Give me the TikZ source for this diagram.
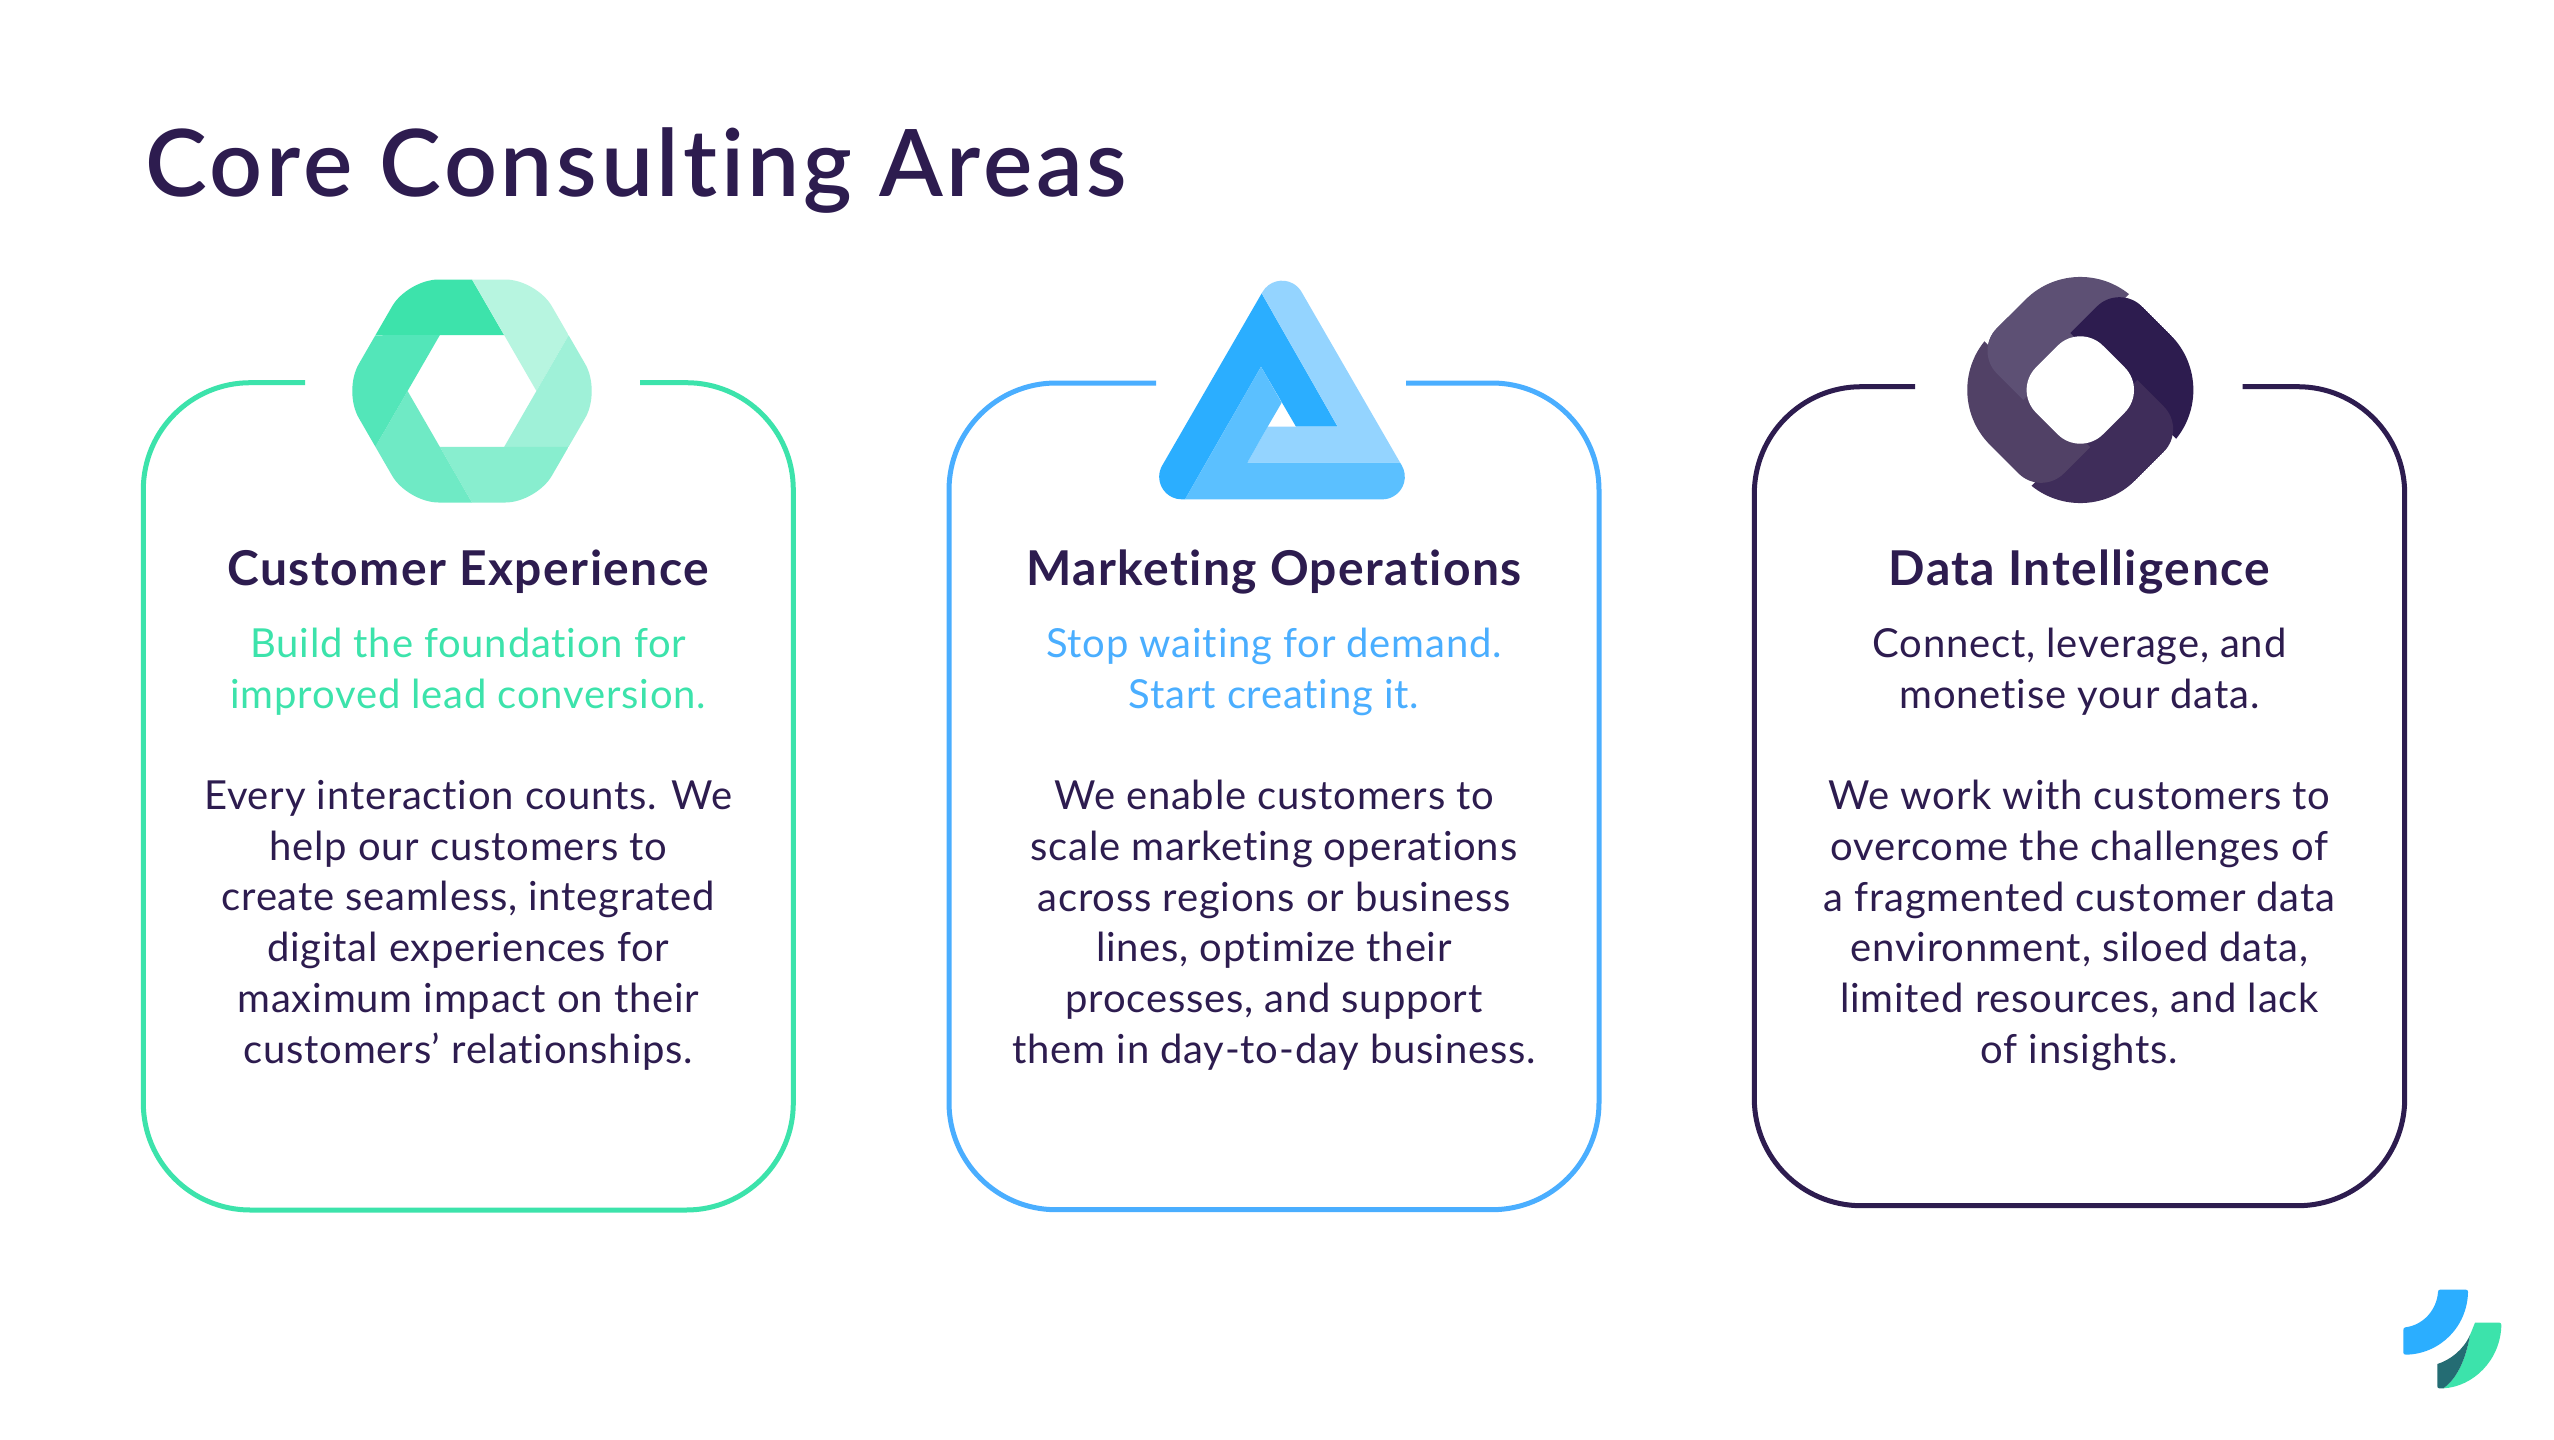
\documentclass[tikz,border=0pt]{standalone}
\usepackage{fontspec}
\setmainfont{Lato}[Ligatures=CommonOff]
\newfontfamily\titlefam{Lato}[UprightFont=* Semibold,LetterSpace=4,Ligatures=CommonOff]
\newfontfamily\headfam{Lato}[UprightFont=* Bold,LetterSpace=3,Ligatures=CommonOff]
\newfontfamily\bodyfam{Lato}[LetterSpace=2,Ligatures=CommonOff]
\definecolor{ink}{HTML}{2D1C4F}
\definecolor{mint}{HTML}{3CE3AB}
\definecolor{sky}{HTML}{4AAEFF}
\definecolor{skydark}{HTML}{2BAEFF}
\definecolor{skymid}{HTML}{5BC0FF}
\definecolor{skylight}{HTML}{94D4FF}
\definecolor{teal}{HTML}{246C73}
\tikzset{
  cardline/.style={line width=2.5pt,rounded corners=53.5pt},
  titletext/.style={anchor=base west,inner sep=0pt,text=ink,font=\fontsize{46.5}{52}\titlefam},
  headtext/.style={anchor=base,inner sep=0pt,text=ink,font=\fontsize{24}{28}\headfam},
  bodytext/.style={anchor=north,inner sep=0pt,align=center,text=ink,font=\fontsize{20}{25.35}\bodyfam},
}
\begin{document}
\begin{tikzpicture}[x=0.5pt,y=-0.5pt]
\useasboundingbox (0,0) rectangle (2554,1440);
\fill[white] (0,0) rectangle (2554,1440);
% title
\node[titletext] (title) at (145,196) {Core Consulting Areas};
% cards
\draw[cardline,draw=mint] (305,382.7) -- (143.3,382.7) -- (143.3,1210) -- (793.3,1210) -- (793.3,382.7) -- (640,382.7);
\draw[cardline,draw=sky] (1156,383) -- (949,383) -- (949,1209.7) -- (1599,1209.7) -- (1599,383) -- (1406,383);
\draw[cardline,draw=ink] (1915,386.7) -- (1754.3,386.7) -- (1754.3,1205.7) -- (2404.7,1205.7) -- (2404.7,386.7) -- (2242.7,386.7);
% hexagon icon
\begin{scope}[shift={(472,391)}]
  \clip[rounded corners=15.5pt] (-128.8,0) -- (-64.4,-111.5) -- (64.4,-111.5) -- (128.8,0) -- (64.4,111.5) -- (-64.4,111.5) -- cycle;
  \foreach \k/\c in {0/3DE3AB,1/B7F5E0,2/9FF1D8,3/88EECF,4/6FEAC5,5/53E6B9}{
    \definecolor{wedge}{HTML}{\c}
    \fill[wedge,rotate=-60*\k] (32.2,-55.8) -- (-96.6,-55.8) -- (-70,-120) -- (0,-111.5) -- cycle;
  }
\end{scope}
% triangle icon
\begin{scope}[shift={(1130,260)},x=0.16667pt,y=-0.16667pt]
  \begin{scope}
  \clip (397.5,95.8) arc[start angle=150,end angle=30,radius=11.27pt] -- (815.4,616.6) arc[start angle=30,end angle=-90,radius=11.27pt] -- (155.1,718) arc[start angle=-90,end angle=-210,radius=11.27pt] -- cycle;
  \fill[skydark] (395,100) -- (623,500) -- (498,500) -- (393,320) -- (165,718) -- (0,760) -- (300,0) -- cycle;
  \fill[skylight] (395,100) -- (623,500) -- (413,500) -- (352,608) -- (860,608) -- (800,300) -- (456,-40) -- cycle;
  \fill[skymid] (165,718) -- (393,320) -- (455,428) -- (413,500) -- (352,608) -- (860,608) -- (880,760) -- (165,760) -- cycle;
  \end{scope}
\end{scope}
% rounded diamond icon
\begin{scope}[shift={(2080.3,390)}]
  \definecolor{bandA}{HTML}{5D5074}
  \definecolor{bandB}{HTML}{2D1C4F}
  \definecolor{bandC}{HTML}{3F2D5A}
  \definecolor{bandD}{HTML}{514166}
  \begin{scope}[x=0.16667pt,y=0.16667pt,rotate=-45]
    \clip[rounded corners=38.8pt] (-308,-308) rectangle (308,308);
    \foreach \r/\c in {0/bandA,-90/bandB,-180/bandC,-270/bandD}{
      \fill[\c,rotate=\r] (-100,-142) -- (-212,-142) arc[start angle=270,end angle=180,radius=16pt] -- (-308,340) -- (-100,340) -- cycle;
    }
    \begin{scope}
      \clip (-400,-400) rectangle (400,0);
      \fill[bandA] (-100,-142) -- (-212,-142) arc[start angle=270,end angle=180,radius=16pt] -- (-308,340) -- (-100,340) -- cycle;
    \end{scope}
    \fill[white,rounded corners=16pt] (-142,-142) rectangle (142,142);
  \end{scope}
\end{scope}
% logo
\begin{scope}[shift={(2390,1280)},x=0.16667pt,y=-0.16667pt]
  \fill[skydark] (150,29) -- (228,29) .. controls (232,29) and (234,32) .. (234,36) .. controls (232,140) and (150,222) .. (48,224) .. controls (43,224) and (40,222) .. (40,218) -- (40,150) .. controls (40,145) and (42,143) .. (46,142) .. controls (100,135) and (140,90) .. (144,36) .. controls (144,32) and (146,29) .. (150,29) -- cycle;
  \fill[mint] (255,128) -- (328,128) .. controls (332,128) and (334,131) .. (334,135) .. controls (332,240) and (250,320) .. (160,325) .. controls (195,300) and (225,250) .. (240,165) -- cycle;
  \fill[teal] (240,165) .. controls (220,210) and (180,240) .. (142,252) -- (142,318) .. controls (142,323) and (144,325) .. (148,325) -- (160,325) .. controls (195,300) and (225,250) .. (240,165) -- cycle;
\end{scope}
% card 1 text
\node[headtext] (h1) at (468.3,585.7) {Customer Experience};
\node[bodytext,text=mint] (t1) at (468.3,628) {Build the foundation for\\improved lead conversion.};
\node[bodytext] (b1) at (468.3,780) {Every interaction counts. We\\help our customers to\\create seamless, integrated\\digital experiences for\\maximum impact on their\\customers’ relationships.};
% card 2 text
\node[headtext] (h2) at (1274,585.7) {Marketing Operations};
\node[bodytext,text=sky] (t2) at (1274,628) {Stop waiting for demand.\\Start creating it.};
\node[bodytext] (b2) at (1274,780) {We enable customers to\\scale marketing operations\\across regions or business\\lines, optimize their\\processes, and support\\them in day-to-day business.};
% card 3 text
\node[headtext] (h3) at (2079.5,585.7) {Data Intelligence};
\node[bodytext] (t3) at (2079.5,628) {Connect, leverage, and\\monetise your data.};
\node[bodytext] (b3) at (2079.5,780) {We work with customers to\\overcome the challenges of\\a fragmented customer data\\environment, siloed data,\\limited resources, and lack\\of insights.};
\end{tikzpicture}
\end{document}
